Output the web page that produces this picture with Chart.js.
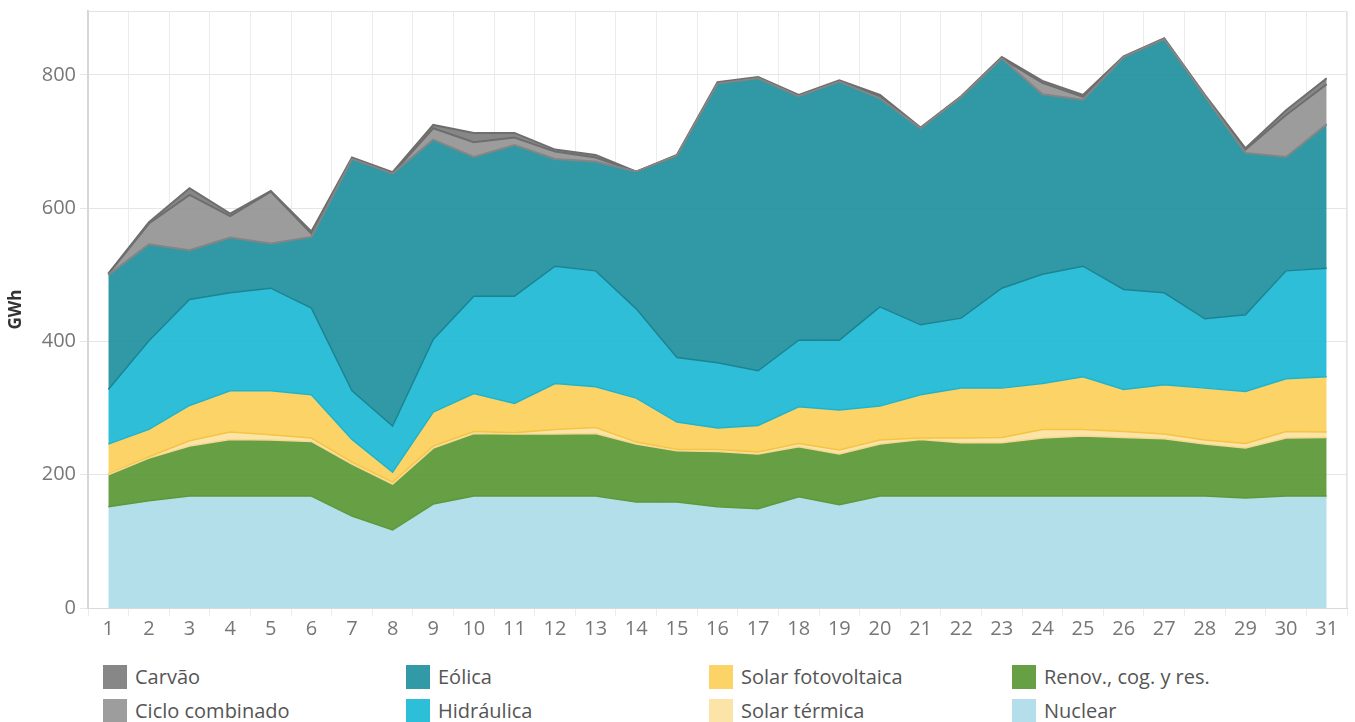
<!DOCTYPE html>
<html>
<head>
<meta charset="utf-8">
<script src="https://cdn.jsdelivr.net/npm/chart.js@4/dist/chart.umd.min.js"></script>
<style>
    body { margin: 0; background: #fff; font-family: "Open Sans", sans-serif; }
    #wrap { position: relative; width: 1355px; height: 722px; }
    #chartBox { position: absolute; left: 0; top: 0; width: 1355px; height: 650px; }
    .leg { position: absolute; display: flex; align-items: center; font-size: 20px; color: #555; white-space: nowrap; }
    .leg span.sw { display: inline-block; width: 24px; height: 24px; margin-right: 8px; }
</style>
</head>
<body>
<div id="wrap">
    <div id="chartBox"><canvas id="genChart"></canvas></div>
    <div id="legend"></div>
</div>
<script>
// Days of the month
const dias = ['1','2','3','4','5','6','7','8','9','10','11','12','13','14','15','16','17','18','19','20','21','22','23','24','25','26','27','28','29','30','31'];

// Generation per technology (GWh), bottom to top of the stack
const nuclear = [152,161,168,168,168,168,138,117,156,168,168,168,168,159,159,152,149,167,155,168,168,168,168,168,168,168,168,168,165,168,168];
const renov = [48,64,75,85,84,82,78,69,84,94,93,93,94,87,77,83,82,75,76,78,85,80,80,87,90,88,86,78,75,87,88];
const solarTermica = [1,2,8,11,8,5,3,3,3,3,2,7,9,3,2,3,3,5,6,6,2,7,8,13,10,9,7,6,7,10,8];
const solarFv = [45,41,53,62,66,65,34,15,51,57,44,69,61,66,41,32,40,55,60,51,65,75,74,69,79,63,74,78,78,79,83];
const hidraulica = [82,133,159,147,154,130,73,69,109,146,161,176,174,134,97,98,82,100,105,149,105,105,150,164,166,150,138,104,115,162,163];
const eolica = [172,145,74,83,67,107,348,379,300,209,227,161,164,206,303,419,439,366,388,313,295,332,345,270,250,349,381,334,243,171,216];
const ciclo = [1,31,83,32,78,5,0,0,17,22,11,11,6,0,0,0,0,0,0,3,0,0,0,17,4,0,0,0,5,63,60];
const carvao = [1,2,10,4,1,3,2,2,5,14,7,3,4,0,1,2,2,2,2,2,1,1,2,3,3,1,1,2,2,7,9];

const yTicks = [0, 200, 400, 600, 800];

// colour as it looks on white -> rgba with some transparency so the grid shows through
function tint(hex, a) {
    const n = parseInt(hex.slice(1), 16);
    const c = [(n >> 16) & 255, (n >> 8) & 255, n & 255].map(v => Math.max(0, Math.round((v - (1 - a) * 255) / a)));
    return 'rgba(' + c.join(',') + ',' + a + ')';
}

const series = [
    { label: 'Nuclear', data: nuclear, color: '#b4dfea', line: '#5a9a3a' },
    { label: 'Renov., cog. y res.', data: renov, color: '#679f44', line: '#f6d98e' },
    { label: 'Solar térmica', data: solarTermica, color: '#fce3a8', line: '#f5c442' },
    { label: 'Solar fotovoltaica', data: solarFv, color: '#fcd366', line: '#1fb4cd' },
    { label: 'Hidráulica', data: hidraulica, color: '#2ebfd8', line: '#1b8493' },
    { label: 'Eólica', data: eolica, color: '#3299a6', line: '#858585' },
    { label: 'Ciclo combinado', data: ciclo, color: '#9d9d9d', line: '#6e6e6e' },
    { label: 'Carvão', data: carvao, color: '#878787', line: '#6e6e6e' }
];

const datasets = series.map((s, i) => ({
    label: s.label,
    data: s.data,
    backgroundColor: tint(s.color, 0.92),
    borderColor: s.line,
    borderWidth: i >= 5 ? 2 : 1.5,
    fill: i === 0 ? 'origin' : '-1',
    pointRadius: 0,
    tension: 0
}));

// frame on top and right of the plot
const framePlugin = {
    id: 'frame',
    beforeDatasetsDraw(chart) {
        const a = chart.chartArea, ctx = chart.ctx;
        ctx.save();
        ctx.strokeStyle = '#e3e3e3';
        ctx.lineWidth = 1;
        ctx.beginPath();
        ctx.moveTo(a.left, a.top + 0.5);
        ctx.lineTo(a.right - 0.5, a.top + 0.5);
        ctx.lineTo(a.right - 0.5, a.bottom);
        ctx.stroke();
        ctx.restore();
    }
};

const ctx = document.getElementById('genChart').getContext('2d');
new Chart(ctx, {
    type: 'line',
    data: { labels: dias, datasets: datasets },
    plugins: [framePlugin],
    options: {
        responsive: true,
        maintainAspectRatio: false,
        animation: false,
        layout: { padding: { top: 11, right: 8, left: 0, bottom: 0 } },
        plugins: {
            legend: { display: false },
            tooltip: { enabled: false }
        },
        scales: {
            x: {
                offset: true,
                grid: { offset: true, color: '#ececec', tickLength: 8 },
                border: { color: '#d9d9d9', width: 1 },
                ticks: { color: '#777', font: { family: 'Open Sans', size: 20 }, padding: 1, maxRotation: 0 },
                afterFit(scale) { scale.height = 42; }
            },
            y: {
                stacked: true,
                min: 0,
                max: 896,
                afterBuildTicks(scale) { scale.ticks = yTicks.map(v => ({ value: v })); },
                grid: { color: '#e6e6e6', tickLength: 8 },
                border: { color: '#d6d6d6', width: 2 },
                ticks: { color: '#777', font: { family: 'Open Sans', size: 20 }, padding: 4 },
                title: { display: true, text: 'GWh', color: '#333', font: { family: 'Open Sans', size: 17, weight: 'bold' }, padding: { top: 6, bottom: 0 } },
                afterFit(scale) {
                    scale.width = 88;
                    scale.paddingTop = 0;
                    scale.paddingBottom = 0;
                }
            }
        }
    }
});

// legend in the same 4-column layout as the original
const legendOrder = ['Carvão', 'Eólica', 'Solar fotovoltaica', 'Renov., cog. y res.', 'Ciclo combinado', 'Hidráulica', 'Solar térmica', 'Nuclear'];
const legendEl = document.getElementById('legend');
legendOrder.forEach((name, k) => {
    const s = series.find(x => x.label === name);
    const col = k % 4, row = Math.floor(k / 4);
    const div = document.createElement('div');
    div.className = 'leg';
    div.style.left = (103 + col * 303) + 'px';
    div.style.top = (663 + row * 34) + 'px';
    div.innerHTML = '<span class="sw" style="background:' + s.color + '"></span>' + name;
    legendEl.appendChild(div);
});
</script>
</body>
</html>
